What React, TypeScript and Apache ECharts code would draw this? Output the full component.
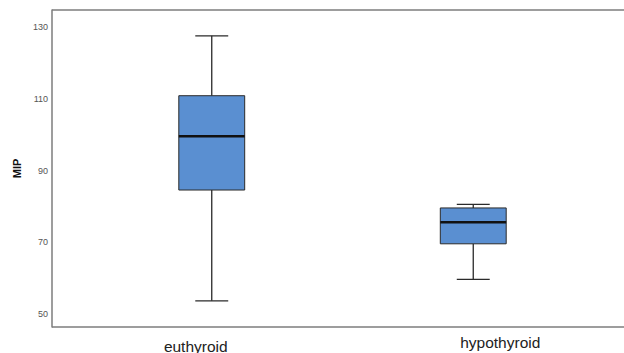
import React, { useEffect, useRef } from "react";
import * as echarts from "echarts";

const categories = ["euthyroid", "hypothyroid"];
// [min, q1, median, q3, max]
const euthyroidStats = [53.7, 84.6, 99.6, 110.9, 127.6];
const hypothyroidStats = [59.7, 69.6, 75.6, 79.6, 80.6];
const yTicks = [50, 70, 90, 110, 130];

export default function App() {
  const ref = useRef<HTMLDivElement>(null);
  useEffect(() => {
    if (!ref.current) return;
    const chart = echarts.init(ref.current, null, { renderer: "svg" });
    const data = [euthyroidStats, hypothyroidStats].map((s, i) => [i, ...s]);
    const frameColor = "#7d7d7d";
    chart.setOption({
      animation: false,
      backgroundColor: "#ffffff",
      grid: { left: 81, right: 20, top: 10, bottom: 26, containLabel: false, outerBoundsMode: "none" },
      xAxis: {
        type: "category",
        data: categories,
        axisLine: { show: false },
        axisTick: { show: false },
        axisLabel: {
          margin: 7,
          formatter: (v: string) => (v === "euthyroid" ? `{a|${v}}` : `{b|${v}}`),
          rich: {
            a: { fontSize: 15.5, color: "#222", fontFamily: "Liberation Sans", padding: [4, 32, 0, 0] },
            b: { fontSize: 15.5, color: "#222", fontFamily: "Liberation Sans", padding: [0, 0, 0, 54] },
          },
        },
        splitLine: { show: false },
      },
      yAxis: {
        type: "value",
        min: 46.4,
        max: 134.8,
        offset: 29,
        name: "MIP",
        nameLocation: "middle",
        nameGap: 28,
        nameTextStyle: { fontSize: 11, fontWeight: "bold", color: "#111", fontFamily: "Liberation Sans" },
        axisLine: { show: true, lineStyle: { color: frameColor, width: 1.5 } },
        axisTick: { show: false },
        splitLine: { show: false },
        axisLabel: {
          customValues: yTicks,
          fontSize: 9,
          color: "#555",
          margin: 4,
          fontFamily: "Liberation Sans",
        },
      },
      graphic: [
        { type: "line", shape: { x1: 52, y1: 10, x2: 624, y2: 10 }, style: { stroke: frameColor, lineWidth: 1.5 } },
        { type: "line", shape: { x1: 52, y1: 327, x2: 624, y2: 327 }, style: { stroke: frameColor, lineWidth: 1.5 } },
      ],
      series: [
        {
          type: "custom",
          data,
          encode: { x: 0, y: [1, 2, 3, 4, 5] },
          renderItem: (params: any, api: any) => {
            const x = api.value(0);
            const pMin = api.coord([x, api.value(1)]);
            const pQ1 = api.coord([x, api.value(2)]);
            const pMed = api.coord([x, api.value(3)]);
            const pQ3 = api.coord([x, api.value(4)]);
            const pMax = api.coord([x, api.value(5)]);
            const band = api.size([1, 0])[0];
            const bw = band * 0.252;
            const cw = bw / 2;
            const cx = pMed[0];
            const stroke = "#2a2a2a";
            const lw = 1.3;
            return {
              type: "group",
              children: [
                { type: "line", shape: { x1: cx, y1: pQ3[1], x2: cx, y2: pMax[1] }, style: { stroke, lineWidth: lw } },
                { type: "line", shape: { x1: cx, y1: pQ1[1], x2: cx, y2: pMin[1] }, style: { stroke, lineWidth: lw } },
                { type: "line", shape: { x1: cx - cw / 2, y1: pMax[1], x2: cx + cw / 2, y2: pMax[1] }, style: { stroke, lineWidth: lw } },
                { type: "line", shape: { x1: cx - cw / 2, y1: pMin[1], x2: cx + cw / 2, y2: pMin[1] }, style: { stroke, lineWidth: lw } },
                {
                  type: "rect",
                  shape: { x: cx - bw / 2, y: pQ3[1], width: bw, height: pQ1[1] - pQ3[1] },
                  style: { fill: "#5a8fd1", stroke, lineWidth: 1 },
                },
                { type: "line", shape: { x1: cx - bw / 2, y1: pMed[1], x2: cx + bw / 2, y2: pMed[1] }, style: { stroke: "#111", lineWidth: 2.4 } },
              ],
            };
          },
        },
      ],
    });
    return () => chart.dispose();
  }, []);
  return <div ref={ref} style={{ position: "fixed", left: 0, top: 0, width: 624, height: 353 }} />;
}
